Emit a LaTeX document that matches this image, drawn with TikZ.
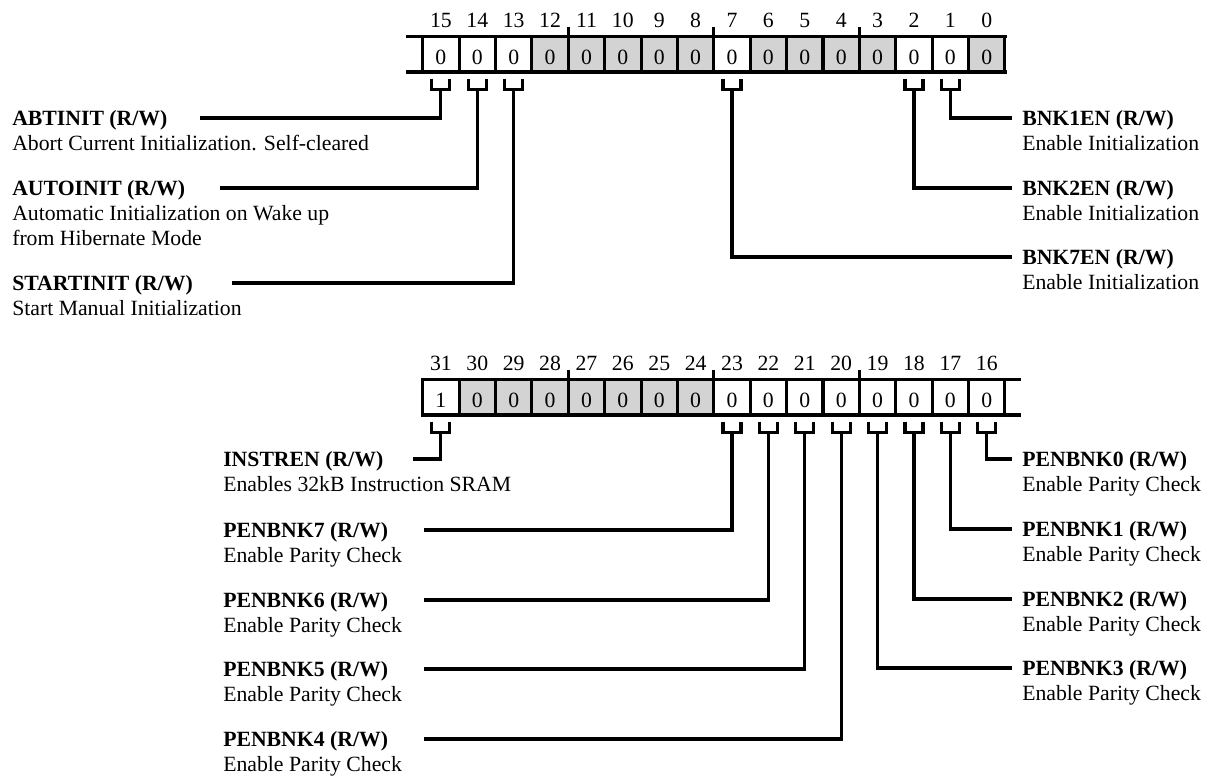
\documentclass[tikz,border=0pt]{standalone}
\usepackage{fontspec}
\setmainfont{Liberation Serif}
\definecolor{cellgray}{RGB}{211,211,211}
\newcommand\fs{\fontsize{16.3}{18}\selectfont}
\begin{document}
\begin{tikzpicture}[x=0.75pt,y=-0.75pt,
  every node/.style={inner sep=0pt, font=\fs},
  ln/.style={line width=2.3pt},
  reg/.style={line width=2.3pt, line cap=rect},
  dig/.style={anchor=base},
  ttl/.style={anchor=base west, font=\fs\bfseries},
  dsc/.style={anchor=base west},
]
\useasboundingbox (0,0) rectangle (1205,779);

% ---------------- top register (bits 15..0)
\foreach \b/\f in {15/white,14/white,13/white,12/cellgray,11/cellgray,10/cellgray,9/cellgray,8/cellgray,7/white,6/cellgray,5/cellgray,4/cellgray,3/cellgray,2/white,1/white,0/cellgray}{
  \pgfmathsetmacro\xl{422.7+36.39*(15-\b)}
  \fill[\f] (\xl,36.5) rectangle ++(36.39,35.5);
  \node[dig] (v\b) at (\xl+18.2,64.5) {0};
  \node[dig] (n\b) at (\xl+18.2,27) {\b};
}
\foreach \k in {0,...,16} \draw[reg] ({422.7+36.39*\k},36.5) -- ++(0,35.5);
\draw[reg] (408,36.5) -- (1005,36.5);
\draw[reg] (408,72) -- (1005,72);
\foreach \k in {4,8,12} \draw[ln] ({422.7+36.39*\k},27) -- ++(0,9.5);
\foreach \b in {15,14,13,7,2,1}{
  \pgfmathsetmacro\cx{422.7+36.39*(15.5-\b)}
  \draw[ln] (\cx-9,78.5) |- (\cx+9,89.5) -- (\cx+9,78.5);
  \coordinate (s\b) at (\cx,89.5);
}

% ---------------- bottom register (bits 31..16)
\foreach \b/\v/\f in {31/1/white,30/0/cellgray,29/0/cellgray,28/0/cellgray,27/0/cellgray,26/0/cellgray,25/0/cellgray,24/0/cellgray,23/0/white,22/0/white,21/0/white,20/0/white,19/0/white,18/0/white,17/0/white,16/0/white}{
  \pgfmathsetmacro\xl{422.7+36.39*(31-\b)}
  \fill[\f] (\xl,379.5) rectangle ++(36.39,35.5);
  \node[dig] (v\b) at (\xl+18.2,407.5) {\v};
  \node[dig] (n\b) at (\xl+18.2,370) {\b};
}
\foreach \k in {0,...,16} \draw[reg] ({422.7+36.39*\k},379.5) -- ++(0,35.5);
\draw[reg] (422.7,379.5) -- (1019,379.5);
\draw[reg] (422.7,415) -- (1019,415);
\foreach \k in {4,8,12} \draw[ln] ({422.7+36.39*\k},370) -- ++(0,9.5);
\foreach \b in {31,23,22,21,20,19,18,17,16}{
  \pgfmathsetmacro\cx{422.7+36.39*(31.5-\b)}
  \draw[ln] (\cx-9,421.5) |- (\cx+9,432.5) -- (\cx+9,421.5);
  \coordinate (s\b) at (\cx,432.5);
}

% ---------------- top-left fields
\node[ttl] (abt) at (12,125) {ABTINIT (R/W)};
\node[dsc] (abtd) at (12,150) {Abort Current Initialization. Self-cleared};
\coordinate (abtL) at (200,118);
\draw[ln] (s15) |- (abtL);

\node[ttl] (auto) at (12,195) {AUTOINIT (R/W)};
\node[dsc] (autod) at (12,220) {Automatic Initialization on Wake up};
\node[dsc] (autoe) at (12,245) {from Hibernate Mode};
\coordinate (autoL) at (220,188);
\draw[ln] (s14) |- (autoL);

\node[ttl] (start) at (12,290) {STARTINIT (R/W)};
\node[dsc] (startd) at (12,315) {Start Manual Initialization};
\coordinate (startL) at (232,283);
\draw[ln] (s13) |- (startL);

% ---------------- top-right fields
\node[ttl] (bnk1) at (1022,125) {BNK1EN (R/W)};
\node[dsc] (bnk1d) at (1022,150) {Enable Initialization};
\coordinate (bnk1R) at (1012,118);
\draw[ln] (s1) |- (bnk1R);

\node[ttl] (bnk2) at (1022,195) {BNK2EN (R/W)};
\node[dsc] (bnk2d) at (1022,220) {Enable Initialization};
\coordinate (bnk2R) at (1012,188);
\draw[ln] (s2) |- (bnk2R);

\node[ttl] (bnk7) at (1022,264) {BNK7EN (R/W)};
\node[dsc] (bnk7d) at (1022,289) {Enable Initialization};
\coordinate (bnk7R) at (1012,257);
\draw[ln] (s7) |- (bnk7R);

% ---------------- bottom-left fields
\node[ttl] (instr) at (223,466) {INSTREN (R/W)};
\node[dsc] (instrd) at (223,491) {Enables 32kB Instruction SRAM};
\coordinate (instrL) at (413,459);
\draw[ln] (s31) |- (instrL);

\node[ttl] (p7) at (223,537) {PENBNK7 (R/W)};
\node[dsc] (p7d) at (223,562) {Enable Parity Check};
\coordinate (p7L) at (424,530);
\draw[ln] (s23) |- (p7L);

\node[ttl] (p6) at (223,607) {PENBNK6 (R/W)};
\node[dsc] (p6d) at (223,632) {Enable Parity Check};
\coordinate (p6L) at (424,600);
\draw[ln] (s22) |- (p6L);

\node[ttl] (p5) at (223,676) {PENBNK5 (R/W)};
\node[dsc] (p5d) at (223,701) {Enable Parity Check};
\coordinate (p5L) at (424,669);
\draw[ln] (s21) |- (p5L);

\node[ttl] (p4) at (223,746) {PENBNK4 (R/W)};
\node[dsc] (p4d) at (223,771) {Enable Parity Check};
\coordinate (p4L) at (424,739);
\draw[ln] (s20) |- (p4L);

% ---------------- bottom-right fields
\node[ttl] (p0) at (1022,466) {PENBNK0 (R/W)};
\node[dsc] (p0d) at (1022,491) {Enable Parity Check};
\coordinate (p0R) at (1012,459);
\draw[ln] (s16) |- (p0R);

\node[ttl] (p1) at (1022,536) {PENBNK1 (R/W)};
\node[dsc] (p1d) at (1022,561) {Enable Parity Check};
\coordinate (p1R) at (1012,529);
\draw[ln] (s17) |- (p1R);

\node[ttl] (p2) at (1022,606) {PENBNK2 (R/W)};
\node[dsc] (p2d) at (1022,631) {Enable Parity Check};
\coordinate (p2R) at (1012,599);
\draw[ln] (s18) |- (p2R);

\node[ttl] (p3) at (1022,675) {PENBNK3 (R/W)};
\node[dsc] (p3d) at (1022,700) {Enable Parity Check};
\coordinate (p3R) at (1012,668);
\draw[ln] (s19) |- (p3R);
\end{tikzpicture}
\end{document}
